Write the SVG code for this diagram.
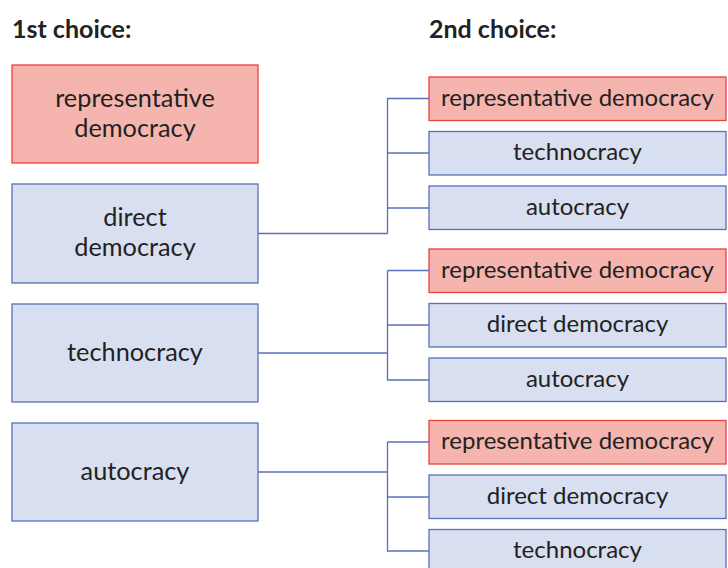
<svg xmlns="http://www.w3.org/2000/svg" width="728" height="568" viewBox="0 0 728 568">
<style>
.h{font-family:Lato,"Liberation Sans",sans-serif;font-weight:bold;font-size:25px;fill:#222}
.t{font-family:Lato,"Liberation Sans",sans-serif;font-size:25.3px;fill:#222;text-anchor:middle}
.s{font-family:Lato,"Liberation Sans",sans-serif;font-size:24px;fill:#222;text-anchor:middle}
.r{fill:#f5b5ae;stroke:#e8423c;stroke-width:1.3}
.b{fill:#d8dff0;stroke:#5b6fb8;stroke-width:1.3}
.c{fill:none;stroke:#5b6fb8;stroke-width:1.3}
</style>
<text class="h" x="12" y="38">1st choice:</text>
<text class="h" x="429" y="38">2nd choice:</text>
<g id="l1"><rect class="r" x="12" y="65" width="246" height="98"/><text class="t" x="135" y="106.5">representative</text><text class="t" x="135" y="136.5">democracy</text></g>
<g id="l2"><rect class="b" x="12" y="184" width="246" height="99"/><text class="t" x="135" y="225.5">direct</text><text class="t" x="135" y="255.5">democracy</text></g>
<g id="l3"><rect class="b" x="12" y="304" width="246" height="98"/><text class="t" x="135" y="361">technocracy</text></g>
<g id="l4"><rect class="b" x="12" y="423" width="246" height="98"/><text class="t" x="135" y="480">autocracy</text></g>
<g id="a1"><rect class="r" x="429" y="77" width="297" height="43.5"/><text class="s" x="577.5" y="105.5">representative democracy</text></g>
<g id="a2"><rect class="b" x="429" y="131.5" width="297" height="43.5"/><text class="s" x="577.5" y="160">technocracy</text></g>
<g id="a3"><rect class="b" x="429" y="186" width="297" height="43.5"/><text class="s" x="577.5" y="214.5">autocracy</text></g>
<g id="b1"><rect class="r" x="429" y="249" width="297" height="43.5"/><text class="s" x="577.5" y="277.5">representative democracy</text></g>
<g id="b2"><rect class="b" x="429" y="303.5" width="297" height="43.5"/><text class="s" x="577.5" y="332">direct democracy</text></g>
<g id="b3"><rect class="b" x="429" y="358" width="297" height="43.5"/><text class="s" x="577.5" y="386.5">autocracy</text></g>
<g id="c1"><rect class="r" x="429" y="420.5" width="297" height="43.5"/><text class="s" x="577.5" y="449">representative democracy</text></g>
<g id="c2"><rect class="b" x="429" y="475" width="297" height="43.5"/><text class="s" x="577.5" y="503.5">direct democracy</text></g>
<g id="c3"><rect class="b" x="429" y="529.5" width="297" height="43.5"/><text class="s" x="577.5" y="558">technocracy</text></g>
<g id="connectors">
<path class="c" d="M258 233.5H387.5M387.5 233.5V98.5H429M387.5 153H429M387.5 208H429"/>
<path class="c" d="M258 353H387.5M387.5 270.5V380H429M387.5 270.5H429M387.5 325H429"/>
<path class="c" d="M258 472H387.5M387.5 442V551H429M387.5 442H429M387.5 497H429"/>
</g>
</svg>
